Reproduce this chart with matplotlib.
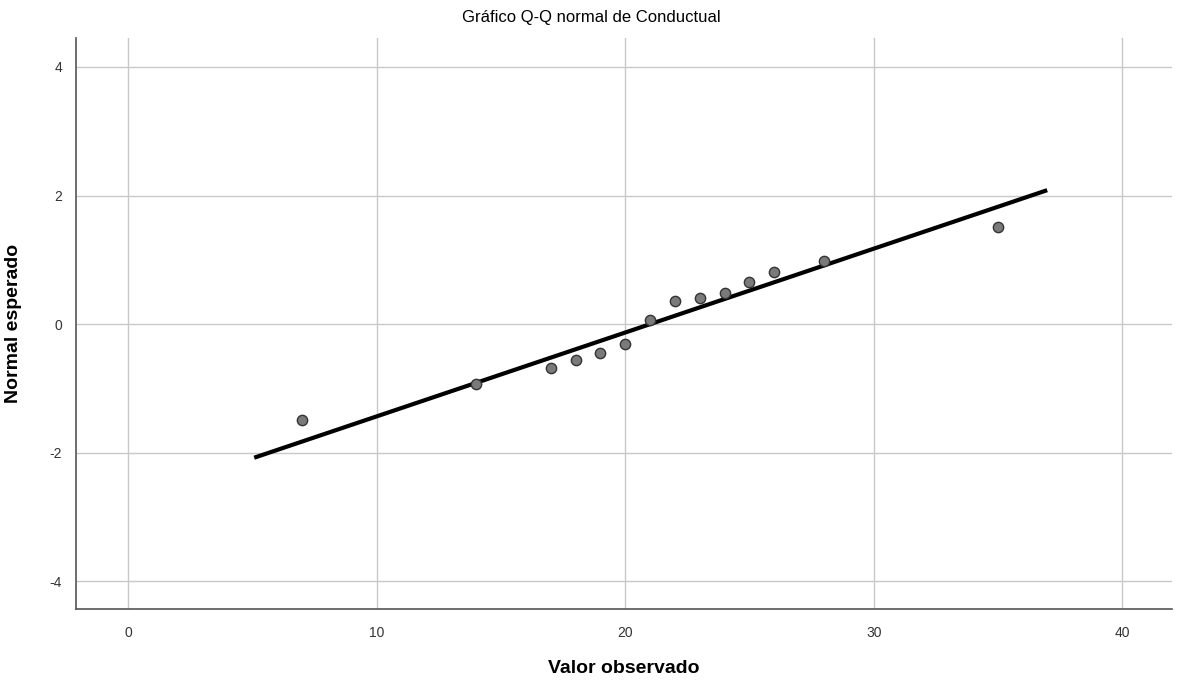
import matplotlib
matplotlib.use("Agg")
import matplotlib.pyplot as plt
import numpy as np

plt.rcParams["font.family"] = ["Liberation Sans", "DejaVu Sans"]
plt.rcParams["axes.unicode_minus"] = False

observed = [7, 14, 17, 18, 19, 20, 21, 22, 23, 24, 25, 26, 28, 35]
expected = [-1.49, -0.93, -0.68, -0.56, -0.45, -0.31, 0.06, 0.36, 0.40, 0.48, 0.65, 0.81, 0.98, 1.51]

# reference line: y = (x - mean) / sd, drawn over this x span
line_mean = 21.0
line_sd = 7.67
line_span = [5.15, 36.9]

x_ticks = [0, 10, 20, 30, 40]
y_ticks = [-4, -2, 0, 2, 4]

fig = plt.figure(figsize=(11.82, 6.83), dpi=100)
ax = fig.add_axes([0.0643, 0.1083, 0.9272, 0.8361])

ax.set_xlim(-2.1, 42.0)
ax.set_ylim(-4.43, 4.45)
ax.set_xticks(x_ticks)
ax.set_yticks(y_ticks)
ax.grid(True, color="#c8c8c8", linewidth=1.0)
ax.set_axisbelow(True)

lx = np.array(line_span)
ax.plot(lx, (lx - line_mean) / line_sd, color="black", linewidth=3.0, zorder=2)
ax.scatter(observed, expected, s=55, color="#7a7a7a", edgecolors="#333333",
           linewidths=1.0, zorder=3)

for side in ["top", "right"]:
    ax.spines[side].set_visible(False)
for side in ["left", "bottom"]:
    ax.spines[side].set_color("#555555")
    ax.spines[side].set_linewidth(1.2)

ax.tick_params(length=0, labelsize=10, colors="#333333")
ax.tick_params(axis="y", pad=10)
ax.tick_params(axis="x", pad=12)
ax.set_xlabel("Valor observado", fontsize=14, fontweight="bold")
ax.set_ylabel("Normal esperado", fontsize=14, fontweight="bold")
ax.xaxis.set_label_coords(0.5, -0.09)
ax.yaxis.set_label_coords(-0.049, 0.5)
fig.suptitle("Gráfico Q-Q normal de Conductual", fontsize=12, y=0.985)

fig.savefig("out.png", dpi=100)
